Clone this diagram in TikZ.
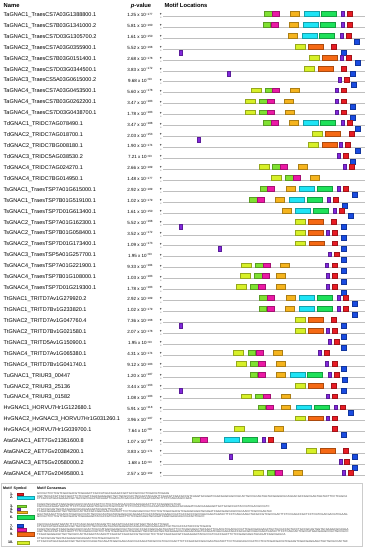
\documentclass[tikz,border=0pt]{standalone}
\usepackage{fontspec}
\setmainfont{Liberation Sans}
\definecolor{c1}{RGB}{232,28,36}
\definecolor{c2}{RGB}{30,228,245}
\definecolor{c3}{RGB}{128,225,50}
\definecolor{c4}{RGB}{130,40,220}
\definecolor{c5}{RGB}{245,180,30}
\definecolor{c6}{RGB}{30,225,90}
\definecolor{c7}{RGB}{25,75,225}
\definecolor{c8}{RGB}{235,25,165}
\definecolor{c9}{RGB}{245,105,20}
\definecolor{c10}{RGB}{215,240,40}
\tikzset{
  nm/.style={anchor=west, inner sep=0pt, font=\fontsize{5.5}{6}\selectfont},
  pv/.style={anchor=center, inner sep=0pt, font=\fontsize{4.5}{5}\selectfont},
  hd/.style={anchor=west, inner sep=0pt, font=\fontsize{5.8}{7}\selectfont\bfseries},
  strand/.style={inner sep=0pt, font=\fontsize{3.5}{4}\selectfont\bfseries},
  track/.style={draw=gray!50, line width=0.8pt},
  mot/.style={fill=#1, draw=#1!70!black, line width=0.35pt},
  lgh/.style={anchor=west, inner sep=0pt, font=\fontsize{3.6}{4}\selectfont\bfseries},
  lgn/.style={anchor=east, inner sep=0pt, font=\fontsize{3.6}{4}\selectfont\bfseries},
  lgt/.style={anchor=west, inner sep=0pt, text=black!75, font=\fontsize{2.8}{3}\selectfont}
}
\newcommand\motw[1]{\edef\mw{\ifcase#1\relax\or5.3\or15.3\or7.7\or3.3\or9.3\or15\or5.3\or7.3\or15\or10\fi}}
\newcommand\grow[4]{%
  \pgfmathsetmacro\ry{16.3+10.93*(#1-1)}%
  \node[nm] (n#1) at (3.5,\ry-1.3) {#2};
  \node[pv] (p#1) at (140,\ry-1.3) {#3 x 10\raisebox{1.5pt}{\fontsize{3}{3}\selectfont −#4}};
  \node[strand] (s#1) at (161,\ry-1.6) {+};
  \node[strand] (t#1) at (161,\ry+2) {-};
  \draw[track] (163.3,\ry) -- (365,\ry);
}
\newcommand\up[2]{\pgfmathsetmacro\ry{16.3+10.93*(#1-1)}%
  \foreach \m/\x in {#2}{\motw{\m}\filldraw[mot=c\m] (\x,\ry-5) rectangle ++(\mw,4.8);}}
\newcommand\dn[2]{\pgfmathsetmacro\ry{16.3+10.93*(#1-1)}%
  \foreach \m/\x in {#2}{\motw{\m}\filldraw[mot=c\m] (\x,\ry+0.6) rectangle ++(\mw,5);}}
\newcommand\qa{GCCGCTCCTCGTCGACGACGTCGAAG}
\newcommand\qb{CTCGCCATGGCGAAGCCGCTGCCGCC}
\newcommand\qc{AGCTACGCCGTCGCCGACTTCTCCGA}
\newcommand\qd{TCGACGAGGAGCTGCTGCGCCACTAC}
\newcommand\qe{GGCTACAAGTTCGACGTCGACGCCGT}
\newcommand\qf{CAGGTGCAGATCGGCGAGCAGCCGCA}
\newcommand\qg{CTGCCGCAGTGGTACGAGGCGCAGGA}
\newcommand\qh{CGCCGGCGAGTGGTACTTCCTCAGCA}
\begin{document}
\begin{tikzpicture}[x=1pt,y=-1pt]
\useasboundingbox[fill=white] (0,0) rectangle (365,550);
\node[hd] (hname) at (3.5,5.5) {Name};
\node[hd, anchor=center] (hpv) at (141,5.5) {\textit{p}-value};
\node[hd] (hloc) at (164.3,5.5) {Motif Locations};

\grow{1}{TaGNAC1\_TraesCS7A03G1388800.1}{1.25}{177}
\grow{2}{TaGNAC1\_TraesCS7B03G1341000.2}{5.81}{160}
\grow{3}{TaGNAC1\_TraesCS7D03G1305700.2}{1.61}{150}
\grow{4}{TaGNAC2\_TraesCS7A03G0355900.1}{5.52}{168}
\grow{5}{TaGNAC2\_TraesCS7B03G0151400.1}{2.68}{178}
\grow{6}{TaGNAC2\_TraesCS7D03G0344500.1}{3.83}{172}
\grow{7}{TaGNAC3\_TraesCS5A03G0615000.2}{9.68}{93}
\grow{8}{TaGNAC4\_TraesCS7A03G0453500.1}{5.60}{178}
\grow{9}{TaGNAC4\_TraesCS7B03G0262200.1}{3.47}{183}
\grow{10}{TaGNAC4\_TraesCS7D03G0438700.1}{1.78}{183}
\grow{11}{TdGNAC1\_TRIDC7AG078490.1}{3.47}{188}
\grow{12}{TdGNAC2\_TRIDC7AG018700.1}{2.03}{153}
\grow{13}{TdGNAC2\_TRIDC7BG008180.1}{1.90}{174}
\grow{14}{TdGNAC3\_TRIDC5AG038530.2}{7.21}{93}
\grow{15}{TdGNAC4\_TRIDC7AG024270.1}{2.66}{189}
\grow{16}{TdGNAC4\_TRIDC7BG014950.1}{1.48}{177}
\grow{17}{TsGNAC1\_TraesTSP7A01G615000.1}{2.92}{189}
\grow{18}{TsGNAC1\_TraesTSP7B01G519100.1}{1.02}{179}
\grow{19}{TsGNAC1\_TraesTSP7D01G613400.1}{1.61}{150}
\grow{20}{TsGNAC2\_TraesTSP7A01G162300.1}{5.52}{168}
\grow{21}{TsGNAC2\_TraesTSP7B01G058400.1}{3.52}{172}
\grow{22}{TsGNAC2\_TraesTSP7D01G173400.1}{1.09}{173}
\grow{23}{TsGNAC3\_TraesTSP5A01G257700.1}{1.95}{93}
\grow{24}{TsGNAC4\_TraesTSP7A01G221900.1}{9.33}{184}
\grow{25}{TsGNAC4\_TraesTSP7B01G108000.1}{1.03}{183}
\grow{26}{TsGNAC4\_TraesTSP7D01G219300.1}{1.78}{183}
\grow{27}{TtGNAC1\_TRITD7Av1G279920.2}{2.92}{189}
\grow{28}{TtGNAC1\_TRITD7Bv1G233820.1}{1.02}{179}
\grow{29}{TtGNAC2\_TRITD7Av1G047760.4}{7.36}{168}
\grow{30}{TtGNAC2\_TRITD7Bv1G021580.1}{2.07}{178}
\grow{31}{TtGNAC3\_TRITD5Av1G150900.1}{1.95}{93}
\grow{32}{TtGNAC4\_TRITD7Av1G065380.1}{4.31}{174}
\grow{33}{TtGNAC4\_TRITD7Bv1G041740.1}{9.12}{183}
\grow{34}{TuGNAC1\_TRIUR3\_00447}{1.20}{187}
\grow{35}{TuGNAC2\_TRIUR3\_25136}{3.44}{163}
\grow{36}{TuGNAC4\_TRIUR3\_01582}{1.08}{183}
\grow{37}{HvGNAC1\_HORVU7Hr1G122680.1}{5.91}{118}
\grow{38}{HvGNAC2\_HvGNAC3\_HORVU7Hr1G031260.1}{3.96}{107}
\grow{39}{HvGNAC4\_HORVU7Hr1G039700.1}{7.64}{90}
\grow{40}{AtaGNAC1\_AET7Gv21361600.8}{1.07}{119}
\grow{41}{AtaGNAC2\_AET7Gv20384200.1}{3.83}{171}
\grow{42}{AtaGNAC3\_AET5Gv20580000.2}{1.68}{93}
\grow{43}{AtaGNAC4\_AET7Gv20495800.1}{2.57}{162}

\up{1}{3/264,8/272,5/290.3,2/304,6/321.3,4/341.3,1/347.3}
\up{2}{3/262.7,8/270.7,5/289.3,2/302.7,6/320.3,4/341,1/347}
\up{3}{5/288,2/302,6/319.3,4/339.7,1/345.7} \dn{3}{7/354}
\up{4}{10/294.7,9/308,1/331} \dn{4}{4/179.3,7/341}
\up{5}{10/308.7,9/322.3,4/340,1/346} \dn{5}{7/355.3}
\up{6}{10/303.7,9/317.7,1/341.3} \dn{6}{4/226.7,7/350.3}
\up{7}{4/338,1/344} \dn{7}{7/351.3}
\up{8}{10/250.7,3/264.7,8/272.3,5/290,4/335,1/341}
\up{9}{10/245.3,3/259.3,8/267,5/284.3,4/335,1/341} \dn{9}{7/350}
\up{10}{10/245.3,3/259.3,8/267,5/284.7,4/335,1/341} \dn{10}{7/350}
\up{11}{3/263,8/270.7,5/289.3,2/303,6/320.3,4/340.7,1/346.7} \dn{11}{7/355}
\up{12}{10/312,9/325.3,1/348.7} \dn{12}{4/196.7}
\up{13}{10/308,9/321.7,4/339.3,1/345.3} \dn{13}{7/354.7}
\up{14}{4/336.7,1/342.7} \dn{14}{7/349.7}
\up{15}{10/258.7,3/272.3,8/280,5/298,4/343,1/348.7}
\up{16}{10/271,3/285,8/292.7,5/310.3}
\up{17}{3/259.7,8/267.3,5/285.7,2/299,6/316.7,4/337,1/343.3} \dn{17}{7/351.7}
\up{18}{3/249,8/257,5/275.3,2/289,6/306.7,4/327,1/333.3} \dn{18}{7/342}
\up{19}{5/281.7,2/295,6/312.7,4/332.7,1/339} \dn{19}{7/347.7}
\up{20}{10/294.7,9/308,1/331} \dn{20}{4/179.3,7/341}
\up{21}{10/294.7,9/308.3,4/325.7,1/331.7} \dn{21}{7/341}
\up{22}{10/294.7,9/308.7,1/332} \dn{22}{4/218,7/341}
\up{23}{4/328,1/334} \dn{23}{7/341}
\up{24}{10/241,3/255,8/263,5/280.3,4/325.3,1/331.7} \dn{24}{7/341}
\up{25}{10/240,3/254,8/262,5/275.7,4/325.7,1/331.7} \dn{25}{7/341}
\up{26}{10/236,3/250.3,8/258,5/275.7,4/325.7,1/331.7} \dn{26}{7/341}
\up{27}{3/259.3,8/267.3,5/285.7,2/299,6/316.7,4/337.3,1/343.3} \dn{27}{7/351.7}
\up{28}{3/258.7,8/266.7,5/285.3,2/299,6/316.7,4/337.3,1/343.3} \dn{28}{7/351.7}
\up{29}{10/294.7,9/308,1/331} \dn{29}{4/179.3,7/341}
\up{30}{10/294.7,9/308.3,4/325.7,1/331.7} \dn{30}{7/341}
\up{31}{4/328,1/334} \dn{31}{7/341}
\up{32}{10/233.3,3/247.7,8/255.7,5/273,4/317.7,1/324}
\up{33}{10/236,3/250,8/257.7,5/275.7,4/325.3,1/331.7} \dn{33}{7/341}
\up{34}{3/249.7,8/257.7,5/276,2/289.7,6/307.3,4/327.7,1/333.7} \dn{34}{7/341.7}
\up{35}{10/294.7,9/308,1/331} \dn{35}{4/179.3,7/341}
\up{36}{10/241.3,3/255.3,8/263.3,5/281,4/325.7,1/331.7}
\up{37}{3/257.7,8/265.7,5/281.3,2/295.7,6/313.7,4/333.7,1/339.7} \dn{37}{7/348.3}
\up{38}{10/294.7,9/308.3,4/326,1/332}
\up{39}{10/234,5/274,1/331.7} \dn{39}{7/341}
\up{40}{3/192.3,8/200,2/224.3,6/242,4/262.3,1/268.3} \dn{40}{7/281}
\up{41}{10/306,9/319.7,1/343.3} \dn{41}{4/229.3,7/352.3}
\up{42}{4/338.7,1/344.3} \dn{42}{7/351.7}
\up{43}{10/253.3,3/266.7,8/274.7,5/292.7,4/342.3,1/348.3}

% legend
\draw[gray!40, line width=0.5pt] (1.7,483.3) rectangle (362.7,546.7);
\node[lgh] (lh1) at (3,488.3) {Motif};
\node[lgh] (lh2) at (13.5,488.3) {Symbol};
\node[lgh] (lh3) at (37,488.3) {Motif Consensus};
\foreach \k/\yt/\yb/\w in {1/492.7/495.2/5.7, 2/496/499/16.7, 3/505/507.5/8.7, 4/508/510.5/3.2, 5/510.8/513.5/9.7, 6/515.6/519/16.7, 7/524.5/527.5/5.7, 8/528/531/8.7, 9/532/535.7/16.7, 10/541/543.8/11.7}{
  \filldraw[mot=c\k] (17,\yt) rectangle ++(\w,\yb-\yt);
  \node[lgn] (k\k) at (13.3,{(\yt+\yb)/2}) {\k.};
}
\node[lgt] (t1) at (37,494.0) {\qa\qb GCTCGACGTCGAAG};
\node[lgt] (t2) at (37,496.6) {\qc\qd\qe\qf\qg\qh};
\node[lgt] (t3) at (37,499.0) {\qb\qe CGAGTGGTACTTCCTCAGCAGCCGCA};
\node[lgt] (t4) at (37,504.6) {\qf\qa GGACTTCTCCGAGGCGTCAC};
\node[lgt] (t5) at (37,507.0) {\qh\qc\qg\qd CGTCGACGCCGTC};
\node[lgt] (t6) at (37,509.4) {\qg GGCTACAAGTTCGACGT};
\node[lgt] (t7) at (37,511.9) {\qd\qh\qa\qf ACCTCGCCGAGTAC};
\node[lgt] (t8) at (37,514.5) {\qe\qg\qb\qh\qc\qa};
\node[lgt] (t9) at (37,517.0) {\qa\qc\qf CTCGCC};
\node[lgt] (t10) at (37,524.3) {\qh\qe GGCTACAAGTTCGAC};
\node[lgt] (t11) at (37,526.8) {\qb\qg\qd CCGTCGACG};
\node[lgt] (t12) at (37,529.3) {\qf\qb\qh\qe\qd\qg};
\node[lgt] (t13) at (37,531.8) {\qc\qa\qg\qf\qh\qb};
\node[lgt] (t14) at (37,534.3) {\qd\qe\qa\qc GCAGGTGCAGATCGGCGAGCA};
\node[lgt] (t15) at (37,538.6) {\qg CTCGTCGACGACGTC};
\node[lgt] (t16) at (37,541.2) {\qb\qf\qc\qh\qa\qd};
\end{tikzpicture}
\end{document}
